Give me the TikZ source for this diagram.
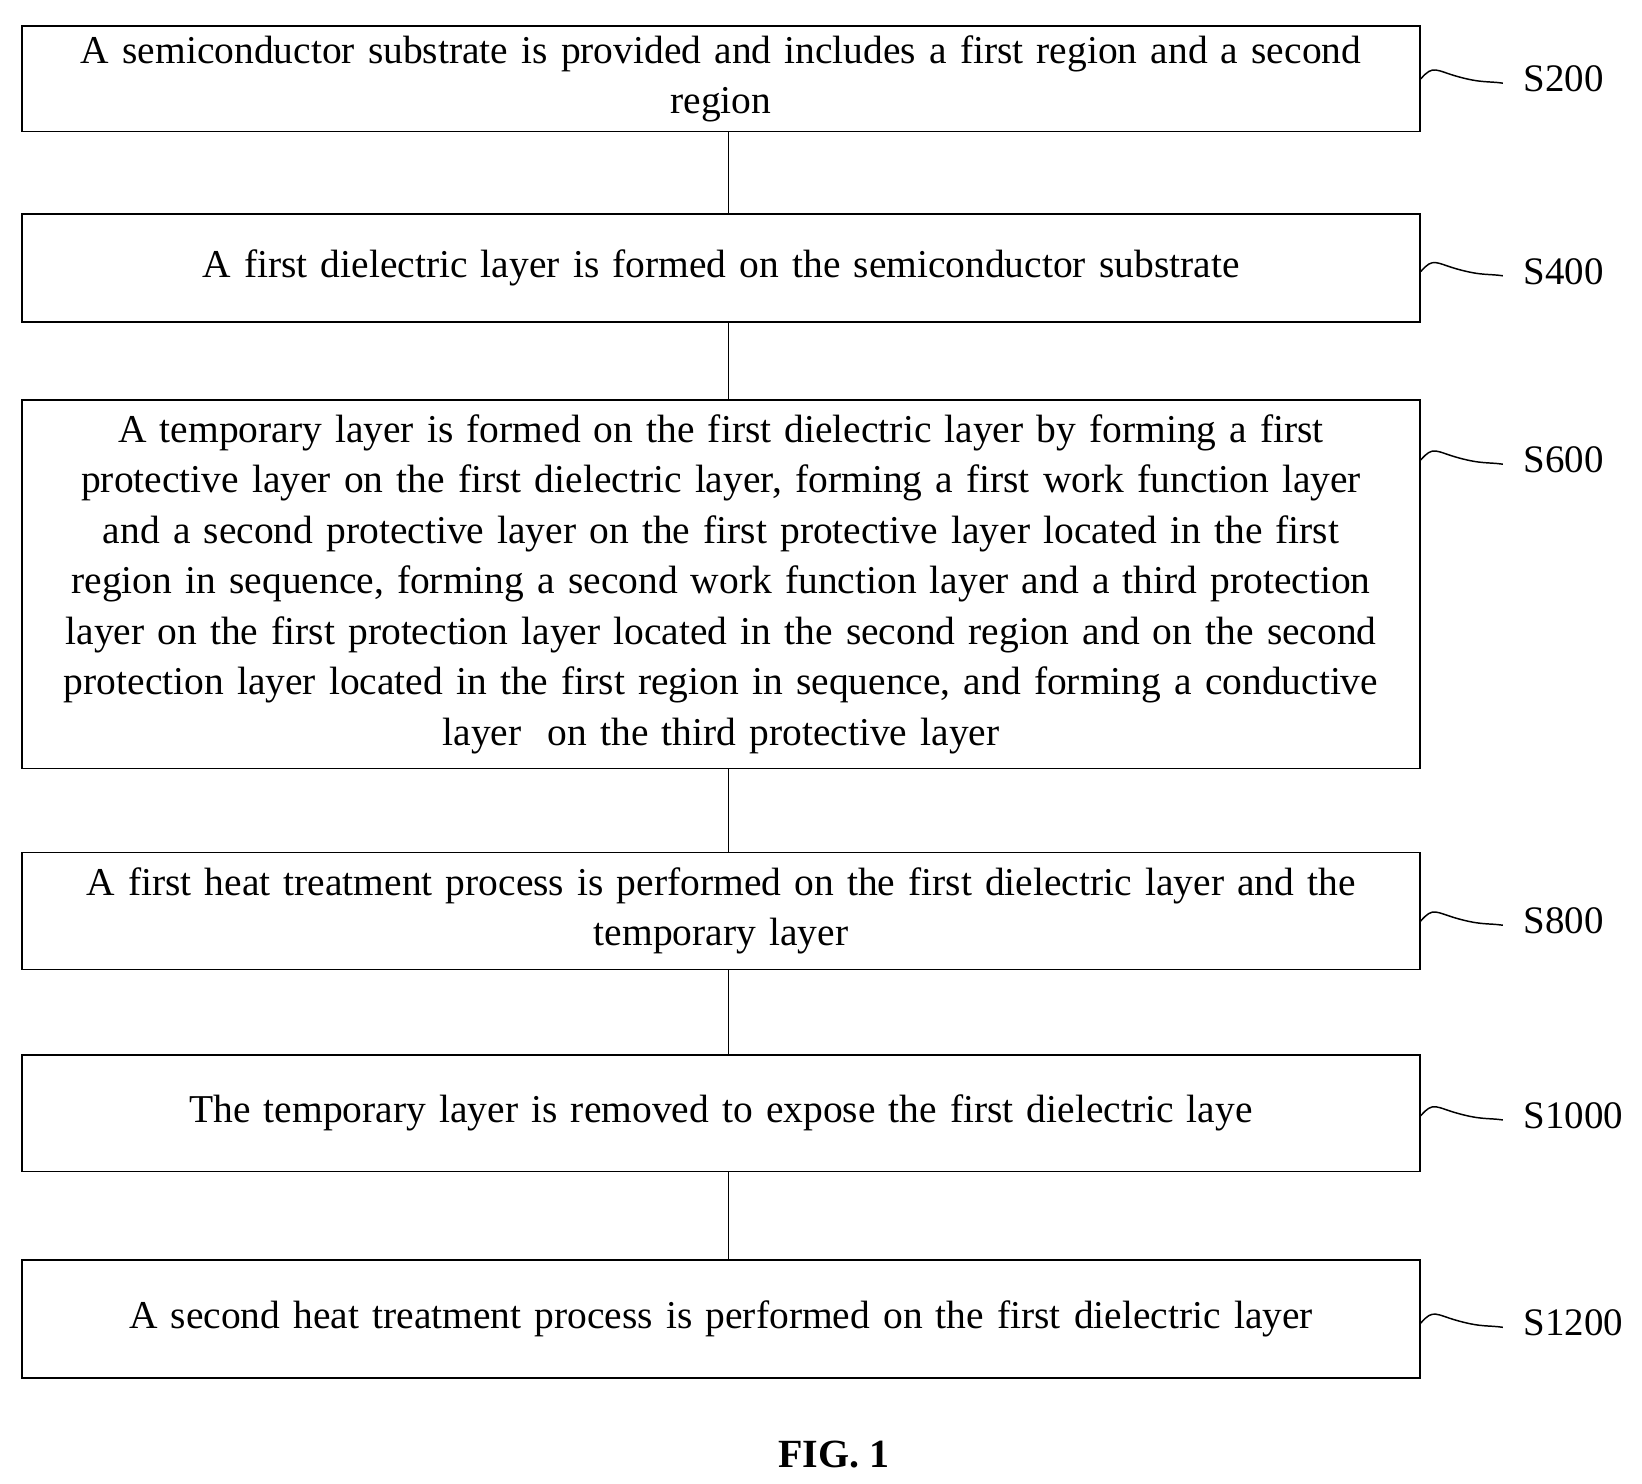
\documentclass[tikz,border=0pt]{standalone}
\usepackage{fontspec}
\setmainfont{Liberation Serif}
\begin{document}
\begin{tikzpicture}[x=1pt,y=-1pt,
 box/.style={draw,line width=1.6pt,minimum width=1328pt,align=center,font=\fontsize{37.5}{48}\selectfont,text width=1320pt,inner sep=0pt},
 lbl/.style={anchor=west,font=\fontsize{37}{44}\selectfont},
 con/.style={line width=1.6pt},
 tl/.style={line width=1.4pt}]
\useasboundingbox (0,0) rectangle (1560,1409);
\node[box,minimum height=100pt] (b1) at (685,75) {A semiconductor substrate is provided and includes a first region and a second\\region};
\node[box,minimum height=103pt] (b2) at (685,254.5) {A first dielectric layer is formed on the semiconductor substrate};
\node[box,minimum height=350pt] (b3) at (685,555) {A temporary layer is formed on the first dielectric layer by forming a first\\protective layer on the first dielectric layer, forming a first work function layer\\and a second protective layer on the first protective layer located in the first\\region in sequence, forming a second work function layer and a third protection\\layer on the first protection layer located in the second region and on the second\\protection layer located in the first region in sequence, and forming a conductive\\layer\ \ on the third protective layer};
\node[box,minimum height=111pt] (b4) at (685,865.5) {A first heat treatment process is performed on the first dielectric layer and the\\temporary layer};
\node[box,minimum height=111pt] (b5) at (685,1057.5) {The temporary layer is removed to expose the first dielectric laye};
\node[box,minimum height=112pt] (b6) at (685,1253) {A second heat treatment process is performed on the first dielectric layer};
\foreach \a/\b in {b1/b2,b2/b3,b3/b4,b4/b5,b5/b6}{\draw[con] (\a.south -| 692,0) -- (\b.north -| 692,0);}
\foreach \n/\y/\t in {b1/75/S200,b2/258/S400,b3/437/S600,b4/875/S800,b5/1060/S1000,b6/1257/S1200}{
 \coordinate (s\n) at (\n.east |- 0,\y);
 \draw[tl] (s\n) .. controls ++(12,-14) and ++(-22,-6) .. ++(36,-2) .. controls ++(22,6) and ++(-14,-2) .. ++(42,6);
 \node[lbl] (l\n) at (1444,\y) {\t};}
\node[font=\bfseries\fontsize{38}{44}\selectfont] (fig) at (792,1382) {FIG. 1};
\end{tikzpicture}
\end{document}
